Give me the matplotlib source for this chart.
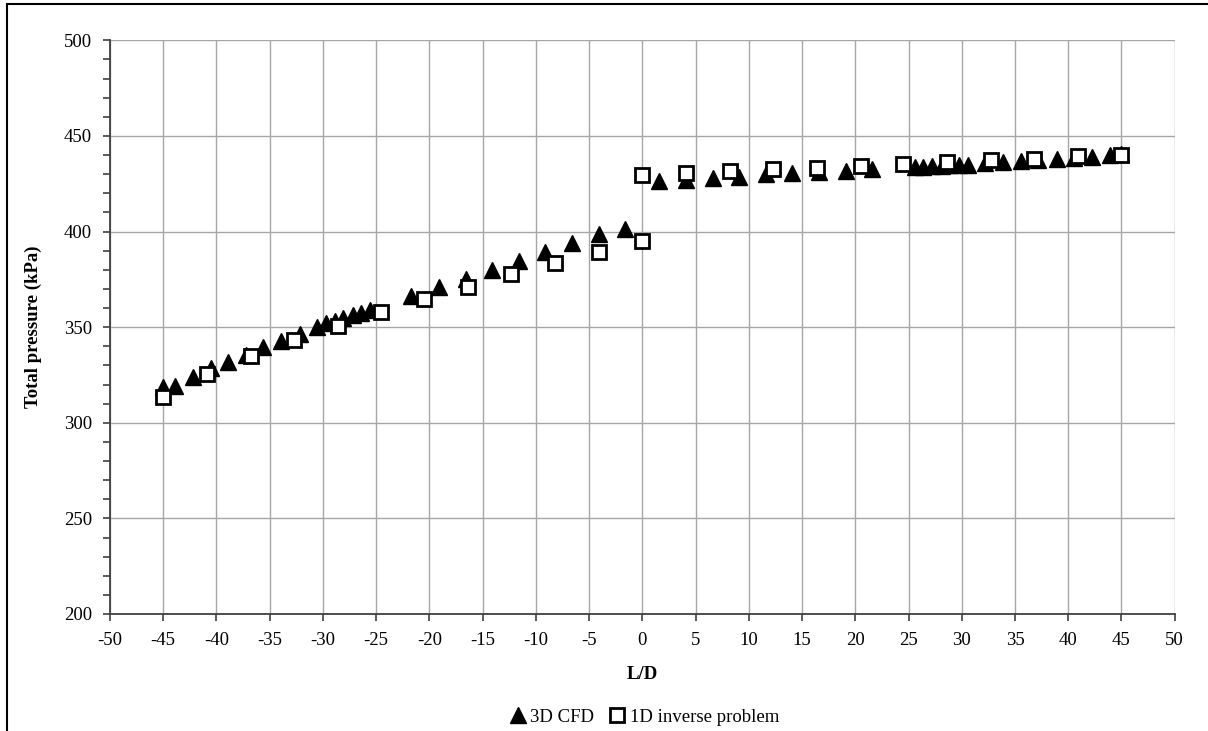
# plot.py
# Presión total a lo largo del conducto: CFD 3D frente a problema inverso 1D
# Genera out.png

import matplotlib
matplotlib.use("Agg")
import matplotlib.pyplot as plt
from matplotlib.patches import Rectangle
from matplotlib.ticker import MultipleLocator

# 3D CFD (L/D, kPa)
cfd_ld = [-45.0, -43.9, -42.2, -40.5, -38.9, -37.2, -35.6, -33.9, -32.2, -30.6,
          -29.7, -28.9, -28.1, -27.2, -26.4, -25.6, -21.7, -19.1, -16.6, -14.1,
          -11.6, -9.1, -6.6, -4.1, -1.6,
          1.6, 4.1, 6.6, 9.1, 11.6, 14.1, 16.6, 19.1, 21.6,
          25.6, 26.4, 27.2, 28.1, 28.9, 29.7, 30.6, 32.2, 33.9, 35.6,
          37.2, 38.9, 40.5, 42.2, 43.9, 45.0]
cfd_p = [318.5, 319.3, 324.1, 328.5, 332.0, 335.5, 339.5, 343.0, 346.3, 350.0,
         352.0, 353.3, 354.7, 356.2, 357.6, 359.0, 366.3, 371.2, 375.2, 380.0,
         384.6, 389.2, 393.9, 398.7, 401.2,
         426.4, 426.8, 427.9, 428.7, 430.0, 430.5, 431.0, 431.8, 432.6,
         433.8, 434.0, 434.2, 434.4, 434.6, 434.8, 435.0, 435.8, 436.5, 437.0,
         437.4, 437.8, 438.6, 439.2, 440.0, 440.3]

# 1D inverse problem (L/D, kPa)
inv_ld = [-45.0, -40.9, -36.8, -32.7, -28.6, -24.5, -20.5, -16.4, -12.3, -8.2, -4.1, 0.0,
          0.0, 4.1, 8.2, 12.3, 16.4, 20.5, 24.5, 28.6, 32.7, 36.8, 40.9, 45.0]
inv_p = [313.7, 325.4, 335.0, 343.3, 350.7, 358.0, 364.6, 371.2, 377.7, 383.4, 389.2, 394.9,
         429.6, 430.5, 431.7, 432.6, 433.4, 434.4, 435.5, 436.5, 437.4, 437.8, 439.5, 440.0]

plt.rcParams["font.family"] = ["Liberation Serif", "DejaVu Serif"]
plt.rcParams["axes.unicode_minus"] = False

fig = plt.figure(figsize=(12.08, 7.31), dpi=100)
fig.patch.set_facecolor("white")

# marco exterior del gráfico
fig.patches.append(Rectangle((7 / 1208, -0.05), 1.1, 1 - 4 / 731 + 0.05,
                             transform=fig.transFigure, fill=False,
                             edgecolor="black", linewidth=1.5))

ax = fig.add_axes([110 / 1208, 1 - 614 / 731, 1064.7 / 1208, 573.7 / 731])

ax.plot(cfd_ld, cfd_p, linestyle="none", marker="^", markersize=11,
        color="black", label="3D CFD", zorder=3)
ax.plot(inv_ld, inv_p, linestyle="none", marker="s", markersize=10,
        markerfacecolor="white", markeredgecolor="black", markeredgewidth=2,
        label="1D inverse problem", zorder=4)

ax.set_xlim(-50, 50)
ax.set_ylim(200, 500)
ax.xaxis.set_major_locator(MultipleLocator(5))
ax.yaxis.set_major_locator(MultipleLocator(50))
ax.yaxis.set_minor_locator(MultipleLocator(10))

ax.grid(which="major", color="#a6a6a6", linewidth=1)
ax.set_axisbelow(True)

for side in ("top", "right"):
    ax.spines[side].set_visible(False)
for side in ("left", "bottom"):
    ax.spines[side].set_color("#404040")
    ax.spines[side].set_linewidth(1.3)

ax.tick_params(which="both", direction="out", length=5, width=1.2,
               color="#404040", labelsize=13.5, labelcolor="black")
ax.tick_params(axis="x", pad=8)
ax.tick_params(axis="y", pad=8)

ax.set_xlabel("L/D", fontsize=13.5, fontweight="bold", labelpad=12)
ax.set_ylabel("Total pressure (kPa)", fontsize=13.5, fontweight="bold", labelpad=16)

ax.legend(loc="center", bbox_to_anchor=(0.5, -0.18), ncol=2, frameon=False,
          fontsize=13.5, handletextpad=0.0, columnspacing=0.6, handlelength=1.3,
          borderaxespad=0)

plt.savefig("out.png", dpi=100, facecolor=fig.get_facecolor())
